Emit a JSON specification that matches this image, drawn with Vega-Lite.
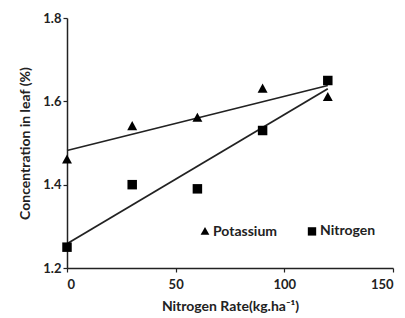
{
  "$schema": "https://vega.github.io/schema/vega-lite/v6.json",
  "width": 326,
  "height": 250,
  "autosize": "none",
  "padding": {"left": 67, "top": 18, "right": 12, "bottom": 50},
  "background": "white",
  "config": {
    "view": {"stroke": null},
    "font": "Lato",
    "axis": {"grid": false, "domainColor": "#222", "tickColor": "#222", "domainWidth": 1.5, "tickWidth": 1.2, "labelFont": "Lato", "labelFontWeight": "bold", "labelFontSize": 13, "labelColor": "#222", "titleFont": "Lato", "titleFontWeight": "bold", "titleFontSize": 14, "titleColor": "#222"}
  },
  "data": {
    "values": [
      {"rate": 0, "value": 1.46, "nutrient": "Potassium"},
      {"rate": 30, "value": 1.54, "nutrient": "Potassium"},
      {"rate": 60, "value": 1.56, "nutrient": "Potassium"},
      {"rate": 90, "value": 1.63, "nutrient": "Potassium"},
      {"rate": 120, "value": 1.61, "nutrient": "Potassium"},
      {"rate": 0, "value": 1.25, "nutrient": "Nitrogen"},
      {"rate": 30, "value": 1.40, "nutrient": "Nitrogen"},
      {"rate": 60, "value": 1.39, "nutrient": "Nitrogen"},
      {"rate": 90, "value": 1.53, "nutrient": "Nitrogen"},
      {"rate": 120, "value": 1.65, "nutrient": "Nitrogen"}
    ]
  },
  "layer": [
    {
      "transform": [{"regression": "value", "on": "rate", "groupby": ["nutrient"]}],
      "mark": {"type": "line", "color": "#222", "strokeWidth": 1.8},
      "encoding": {
        "x": {"field": "rate", "type": "quantitative"},
        "y": {"field": "value", "type": "quantitative"},
        "detail": {"field": "nutrient"}
      }
    },
    {
      "mark": {"type": "point", "filled": true, "color": "#000", "opacity": 1},
      "encoding": {
        "x": {"field": "rate", "type": "quantitative", "scale": {"domain": [0, 150], "nice": false},
          "axis": {"values": [0, 50, 100, 150], "title": "Nitrogen Rate(kg.ha⁻¹)", "titlePadding": 8, "labelPadding": 6, "tickSize": 4}},
        "y": {"field": "value", "type": "quantitative", "scale": {"domain": [1.2, 1.8], "nice": false, "zero": false},
          "axis": {"values": [1.2, 1.4, 1.6, 1.8], "format": ".1f", "title": "Concentration in leaf (%)", "titlePadding": 10, "tickSize": 4}},
        "shape": {"field": "nutrient", "type": "nominal",
          "scale": {"domain": ["Potassium", "Nitrogen"], "range": ["M0,-1.1L1.05,0.8L-1.05,0.8Z", "square"]},
          "legend": {"title": null, "orient": "none", "legendX": 131, "legendY": 206, "direction": "horizontal", "labelFont": "Lato", "labelFontWeight": "bold", "labelFontSize": 14, "labelColor": "#222", "symbolSize": 70, "symbolFillColor": "#000", "symbolStrokeColor": "#000", "columnPadding": 26, "labelOffset": 1}},
        "size": {"value": 90}
      }
    }
  ]
}
